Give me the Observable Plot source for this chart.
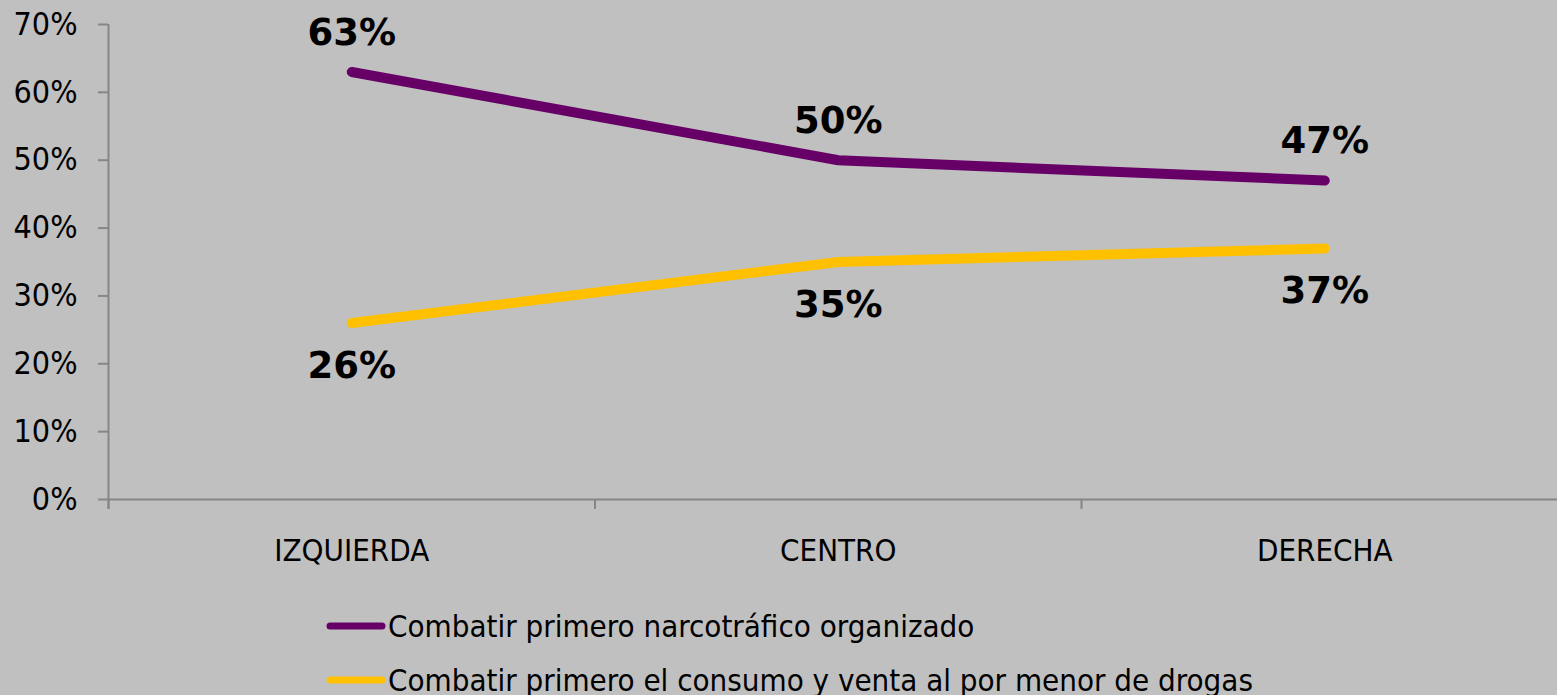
<!DOCTYPE html>
<html>
<head>
<meta charset="utf-8">
<script src="https://cdn.jsdelivr.net/npm/d3@7"></script>
<script src="https://cdn.jsdelivr.net/npm/@observablehq/plot@0.6"></script>
<style>
  html, body { margin: 0; padding: 0; background: #c0c0c0; overflow: hidden; }
  #chart svg { display: block; background: #c0c0c0; }
  .legend { padding-top: 19px; font-family: "DejaVu Sans Condensed", "DejaVu Sans", sans-serif; font-size: 31px; color: #000; }
  .legend .row { height: 54px; display: flex; align-items: center; padding-left: 326px; }
  .legend svg { display: block; margin-right: 2px; }
</style>
</head>
<body>
<div id="chart"></div>
<div class="legend" id="legend"></div>
<script>
const categories = ["IZQUIERDA", "CENTRO", "DERECHA"];
const seriesNames = [
  "Combatir primero narcotráfico organizado",
  "Combatir primero el consumo y venta al por menor de drogas"
];
const narcotrafico = [63, 50, 47];
const consumo = [26, 35, 37];
const colors = ["#660066", "#ffc000"];
const yTicks = [0, 10, 20, 30, 40, 50, 60, 70];

const data = [];
categories.forEach((c, i) => {
  data.push({cat: c, pos: i + 0.5, value: narcotrafico[i], series: seriesNames[0]});
});
categories.forEach((c, i) => {
  data.push({cat: c, pos: i + 0.5, value: consumo[i], series: seriesNames[1]});
});

const font = "DejaVu Sans Condensed, DejaVu Sans, sans-serif";
const axisColor = "#868686";

const chart = Plot.plot({
  width: 1557,
  height: 580,
  marginTop: 24,
  marginBottom: 81,
  marginLeft: 108,
  marginRight: 0,
  style: {background: "#c0c0c0", fontFamily: font, fontSize: "31px", color: "#000", overflow: "visible"},
  x: {domain: [0, categories.length], range: [108, 1567.5], axis: null, label: null},
  y: {domain: [0, 70], axis: null, label: null},
  color: {domain: seriesNames, range: colors},
  marks: [
    Plot.ruleY([0], {stroke: axisColor, strokeWidth: 2}),
    Plot.ruleX([0], {y1: 70, y2: 0, stroke: axisColor, strokeWidth: 2, insetBottom: -10}),
    Plot.axisY({ticks: yTicks, label: null, tickSize: 10, tickPadding: 21, tickFormat: d => d + "%", stroke: axisColor, strokeWidth: 2, strokeOpacity: 1, fill: "#000", fontSize: 32, fontFamily: font}),
    Plot.axisX({ticks: d3.range(categories.length + 1), label: null, tickSize: 10, tickFormat: () => "", stroke: axisColor, strokeWidth: 2, strokeOpacity: 1}),
    Plot.axisX({ticks: categories.map((c, i) => i + 0.5), label: null, tickSize: 0, tickPadding: 39, tickFormat: d => categories[Math.round(d - 0.5)], fill: "#000", fontSize: 31, fontFamily: font}),
    Plot.line(data, {x: "pos", y: "value", z: "series", stroke: "series", strokeWidth: 10, strokeLinecap: "round", strokeLinejoin: "round"}),
    Plot.text(data.filter(d => d.series === seriesNames[0]), {x: "pos", y: "value", text: d => d.value + "%", dy: -39, fontSize: 37, fontWeight: "bold", fontFamily: "DejaVu Sans, sans-serif", fill: "#000"}),
    Plot.text(data.filter(d => d.series === seriesNames[1]), {x: "pos", y: "value", text: d => d.value + "%", dy: 43, fontSize: 37, fontWeight: "bold", fontFamily: "DejaVu Sans, sans-serif", fill: "#000"})
  ]
});
document.getElementById("chart").appendChild(chart);

const legend = document.getElementById("legend");
seriesNames.forEach((name, i) => {
  const row = document.createElement("div");
  row.className = "row";
  row.innerHTML = `<svg width="60" height="12"><line x1="4" y1="6" x2="56" y2="6" stroke="${colors[i]}" stroke-width="7" stroke-linecap="round"/></svg><span>${name}</span>`;
  legend.appendChild(row);
});
</script>
</body>
</html>
